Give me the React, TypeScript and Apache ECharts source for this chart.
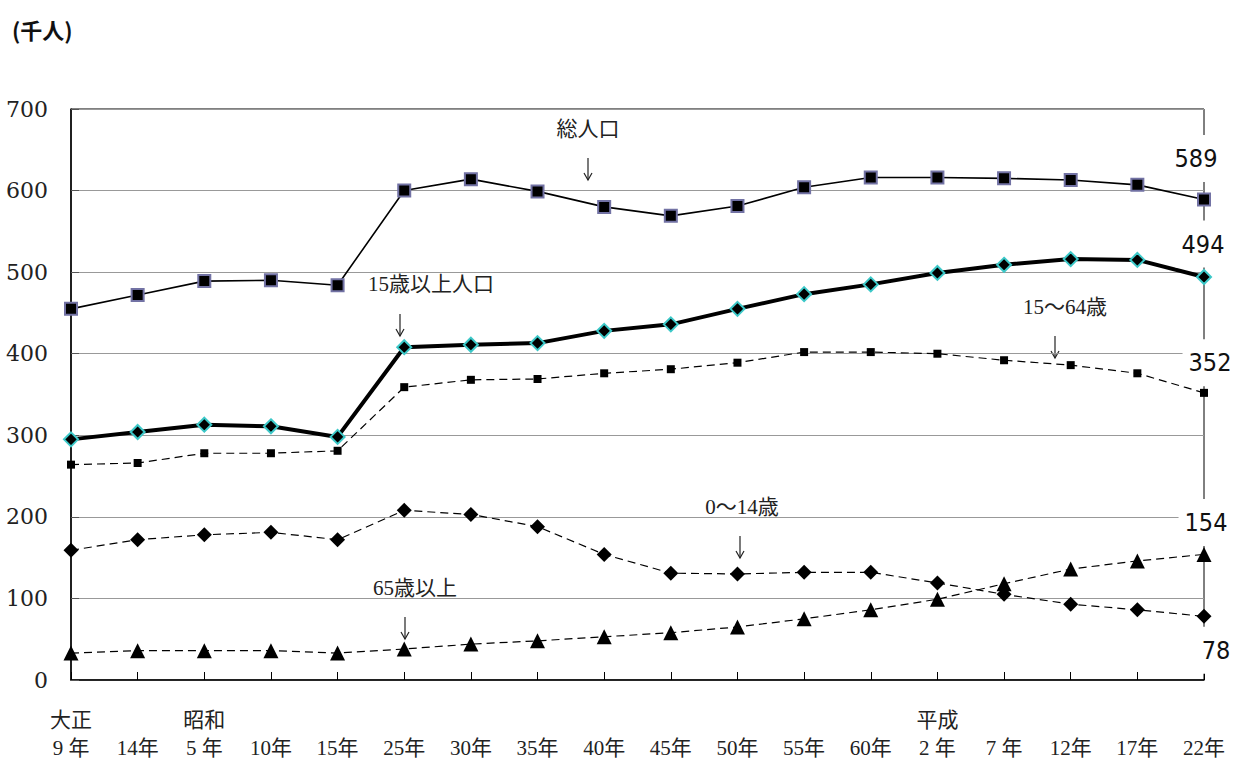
import React, { useEffect, useRef } from "react";
import * as echarts from "echarts";

const eras = ["大正", "", "昭和", "", "", "", "", "", "", "", "", "", "", "平成", "", "", "", ""];
const years = ["9 年", "14年", "5 年", "10年", "15年", "25年", "30年", "35年", "40年", "45年", "50年", "55年", "60年", "2 年", "7 年", "12年", "17年", "22年"];

const total = [455, 472, 489, 490, 484, 600, 614, 599, 580, 569, 581, 604, 616, 616, 615, 613, 607, 589];
const over15 = [295, 304, 313, 311, 298, 408, 411, 413, 428, 436, 455, 473, 485, 499, 509, 516, 515, 494];
const age15to64 = [264, 266, 278, 278, 281, 359, 368, 369, 376, 381, 389, 402, 402, 400, 392, 386, 376, 352];
const age0to14 = [159, 172, 178, 181, 172, 208, 203, 188, 154, 131, 130, 132, 132, 119, 105, 93, 86, 78];
const age65plus = [33, 36, 36, 36, 33, 38, 44, 48, 53, 58, 65, 75, 86, 99, 118, 136, 146, 154];

const yTicks = { min: 0, max: 700, interval: 100 };

const SERIF = "Liberation Serif, DejaVu Serif, Noto Sans CJK JP, serif";
const GOTHIC = "Noto Sans CJK JP, DejaVu Sans, sans-serif";

function endLabel(arr: number[], offset: number[]) {
  const last = arr.length - 1;
  return {
    silent: true,
    symbol: "rect",
    symbolSize: 1,
    itemStyle: { color: "rgba(0,0,0,0)" },
    label: {
      show: true,
      position: "inside",
      offset,
      formatter: String(arr[last]),
      fontSize: 25,
      fontFamily: "DejaVu Sans Condensed, Noto Sans CJK JP, sans-serif",
      color: "#111",
      backgroundColor: "#fff",
      padding: [11, 6],
    },
    data: [{ coord: [last, arr[last]] }],
  };
}

function annot(text: string, x: number, y: number) {
  return {
    type: "text",
    x,
    y,
    z: 10,
    style: {
      text,
      fontSize: 21,
      fontFamily: SERIF,
      fill: "#222",
      align: "center",
      verticalAlign: "middle",
    },
  };
}

function arrow(x: number, yc: number) {
  const s = { stroke: "#222", lineWidth: 1.2, fill: "none" };
  return {
    type: "group",
    z: 10,
    children: [
      { type: "line", shape: { x1: x, y1: yc - 11, x2: x, y2: yc + 11 }, style: s },
      {
        type: "polyline",
        shape: { points: [[x - 4, yc + 4], [x, yc + 11], [x + 4, yc + 4]] },
        style: s,
      },
    ],
  };
}

export default function App() {
  const ref = useRef<HTMLDivElement>(null);

  useEffect(() => {
    if (!ref.current) return;
    const chart = echarts.init(ref.current, undefined, { renderer: "svg" });
    const dash = [8, 5];
    chart.setOption({
      animation: false,
      backgroundColor: "#fff",
      grid: {
        left: 71,
        right: 29,
        top: 109,
        bottom: 80,
        show: true,
        borderColor: "#000",
        borderWidth: 1,
      },
      xAxis: {
        type: "category",
        data: years,
        boundaryGap: false,
        axisLine: { lineStyle: { color: "#000", width: 1.5 } },
        axisTick: { inside: true, length: 8, alignWithLabel: true, lineStyle: { color: "#000" } },
        axisLabel: {
          interval: 0,
          margin: 26,
          formatter: (v: string, i: number) => `{era|${eras[i] || " "}}\n{yr|${v}}`,
          rich: {
            era: { fontSize: 21, fontFamily: SERIF, color: "#222", lineHeight: 28 },
            yr: { fontSize: 21, fontFamily: SERIF, color: "#222", lineHeight: 28 },
          },
        },
        splitLine: { show: false },
      },
      yAxis: {
        type: "value",
        min: yTicks.min,
        max: yTicks.max,
        interval: yTicks.interval,
        axisLine: { show: true, lineStyle: { color: "#000", width: 1.5 } },
        axisTick: { show: true, inside: true, length: 8, lineStyle: { color: "#555" } },
        axisLabel: { fontSize: 22, fontFamily: "DejaVu Serif, serif", color: "#222", margin: 23 },
        splitLine: { show: true, lineStyle: { color: "#999", width: 1 } },
      },
      series: [
        {
          name: "65歳以上",
          type: "line",
          data: age65plus,
          symbol: "triangle",
          symbolSize: 15,
          itemStyle: { color: "#000" },
          lineStyle: { color: "#000", width: 1.2, type: dash },
          markPoint: endLabel(age65plus, [2, -32]),
        },
        {
          name: "0〜14歳",
          type: "line",
          data: age0to14,
          symbol: "diamond",
          symbolSize: 15,
          itemStyle: { color: "#000" },
          lineStyle: { color: "#000", width: 1.2, type: dash },
          markPoint: endLabel(age0to14, [12, 34]),
        },
        {
          name: "15〜64歳",
          type: "line",
          data: age15to64,
          symbol: "rect",
          symbolSize: 8,
          itemStyle: { color: "#000" },
          lineStyle: { color: "#000", width: 1.2, type: dash },
          markPoint: endLabel(age15to64, [6, -30]),
        },
        {
          name: "15歳以上人口",
          type: "line",
          data: over15,
          symbol: "diamond",
          symbolSize: 14,
          itemStyle: { color: "#000", borderColor: "#3cc8c8", borderWidth: 2 },
          lineStyle: { color: "#000", width: 4 },
          markPoint: endLabel(over15, [-1, -33]),
        },
        {
          name: "総人口",
          type: "line",
          data: total,
          symbol: "rect",
          symbolSize: 12,
          itemStyle: { color: "#000", borderColor: "#7272a4", borderWidth: 2 },
          lineStyle: { color: "#000", width: 1.6 },
          markPoint: endLabel(total, [-8, -41]),
        },
      ],
      graphic: [
        {
          type: "text",
          left: 12,
          top: 18,
          style: { text: "(千人)", fontSize: 22, fontWeight: 600, fontFamily: GOTHIC, fill: "#111" },
        },
        annot("総人口", 588, 129),
        arrow(588, 169),
        annot("15歳以上人口", 431, 284),
        arrow(400, 325),
        annot("15〜64歳", 1065, 307),
        arrow(1055, 347),
        annot("0〜14歳", 742, 507),
        arrow(740, 547),
        annot("65歳以上", 415, 588),
        arrow(405, 628),
      ],
    });
    return () => chart.dispose();
  }, []);

  return (
    <div
      ref={ref}
      style={{ position: "absolute", left: 0, top: 0, width: 1233, height: 760 }}
    />
  );
}
